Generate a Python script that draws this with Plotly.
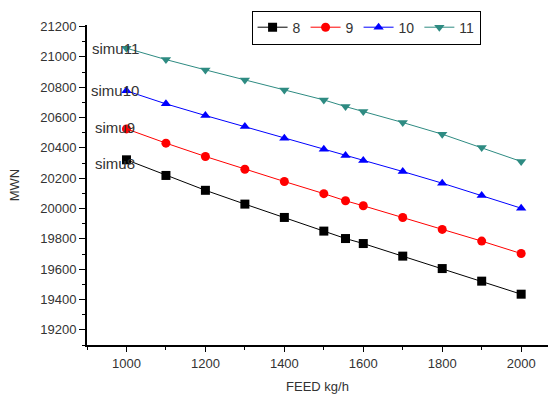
import plotly.graph_objects as go

feed = [1000, 1100, 1200, 1300, 1400, 1500, 1555, 1600, 1700, 1800, 1900, 2000]
s8 = [20321, 20218, 20120, 20029, 19941, 19851, 19802, 19769, 19686, 19604, 19521, 19435]
s9 = [20525, 20431, 20343, 20259, 20178, 20098, 20051, 20018, 19941, 19862, 19785, 19703]
s10 = [20776, 20690, 20613, 20540, 20464, 20391, 20349, 20316, 20244, 20167, 20086, 20002]
s11 = [21057, 20982, 20914, 20848, 20782, 20716, 20672, 20640, 20567, 20490, 20402, 20310]

names = ["8", "9", "10", "11"]
series = [s8, s9, s10, s11]
colors = ["#000000", "#ff0000", "#0000ff", "#2e8b82"]
symbols = ["square", "circle", "triangle-up", "triangle-down"]
labels = ["simu8", "simu9", "simu10", "simu11"]
label_yshift = [-4, 1, 0, 0]

fig = go.Figure()
for n, s, c, sym in zip(names, series, colors, symbols):
    fig.add_trace(go.Scatter(x=feed, y=s, name=n, mode="lines+markers",
                             line=dict(color=c, width=1),
                             marker=dict(symbol=sym, size=9, color=c)))

for lab, s, ys in zip(labels, series, label_yshift):
    fig.add_annotation(x=feed[0], y=s[0], text=lab, showarrow=False,
                       xanchor="center", xshift=-11, yshift=ys,
                       font=dict(family="Arial, Liberation Sans", size=15, color="#333333"))

fig.update_layout(
    width=548, height=394,
    margin=dict(l=87, r=0, t=25, b=49, autoexpand=False),
    paper_bgcolor="white", plot_bgcolor="white",
    font=dict(family="Arial, Liberation Sans", size=13, color="#333333"),
    showlegend=True,
    legend=dict(orientation="h", x=0.357, y=1.045, xanchor="left", yanchor="top",
                bordercolor="black", borderwidth=1, bgcolor="white",
                font=dict(size=14, color="#333333"), itemwidth=30,
                tracegroupgap=0),
)
fig.update_xaxes(range=[900, 2068], tickvals=[1000, 1200, 1400, 1600, 1800, 2000],
                 tickformat="d",
                 showgrid=False, zeroline=False, showline=True, linecolor="black", linewidth=2,
                 ticks="outside", ticklen=5, tickwidth=1, tickcolor="black",
                 minor=dict(dtick=100, tick0=900, ticks="outside", ticklen=3, tickcolor="black", showgrid=False),
                 title=dict(text="FEED kg/h", font=dict(size=13, color="#333333"), standoff=12))
fig.update_yaxes(range=[19100, 21210], tickvals=list(range(19200, 21201, 200)),
                 tickformat="d",
                 showgrid=False, zeroline=False, showline=True, linecolor="black", linewidth=2,
                 ticks="outside", ticklen=6, tickwidth=1, tickcolor="black",
                 minor=dict(dtick=100, tick0=19100, ticks="outside", ticklen=3, tickcolor="black", showgrid=False),
                 title=dict(text="MWN", font=dict(size=13, color="#333333"), standoff=18))

fig.write_html("out.html")
